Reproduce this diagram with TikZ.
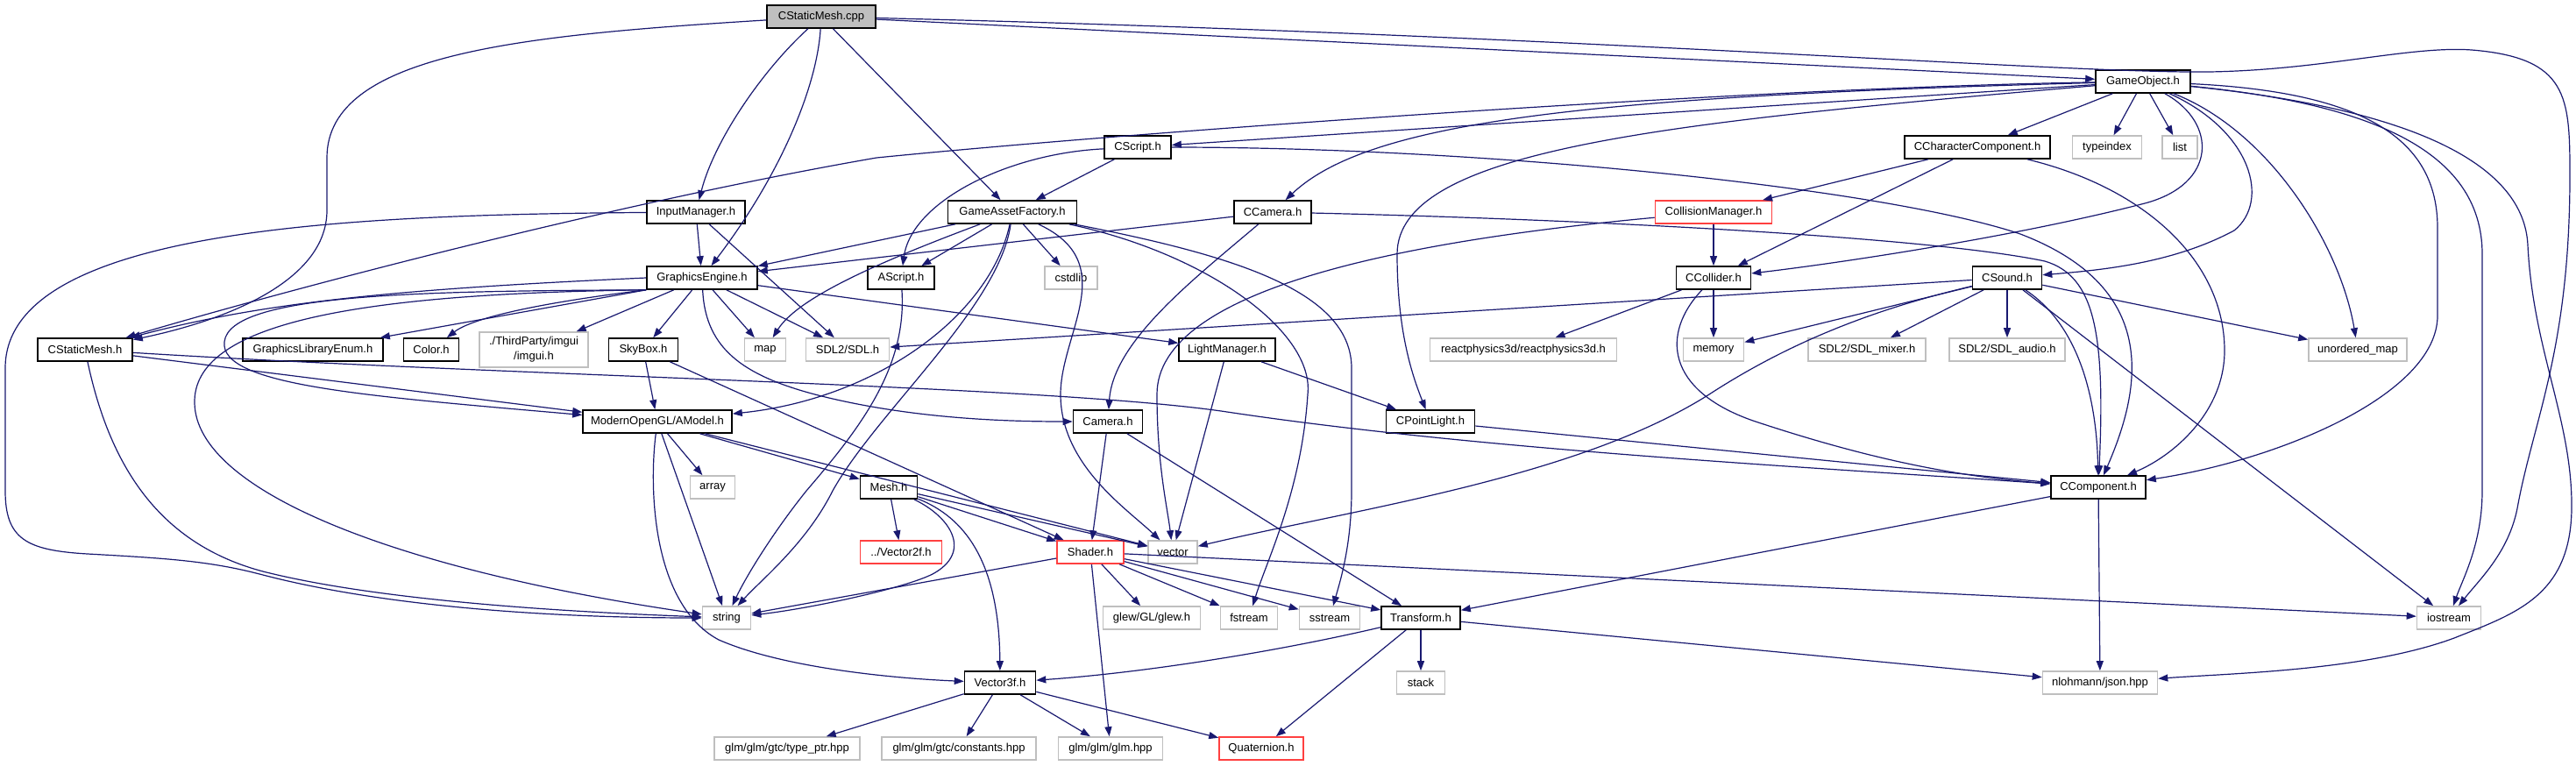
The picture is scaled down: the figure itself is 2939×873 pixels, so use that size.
\documentclass[tikz,border=0pt]{standalone}
\usepackage{fontspec}
\setmainfont{Liberation Sans}
\usetikzlibrary{arrows.meta}
\definecolor{edgecol}{HTML}{191970}
\definecolor{graybd}{HTML}{BFBFBF}
\definecolor{redbd}{HTML}{FF4040}
\definecolor{rootfill}{HTML}{BFBFBF}
\begin{document}
\begin{tikzpicture}[x=1pt,y=-1pt,
  basebox/.style={rectangle, line width=1.6pt, fill=white, minimum height=26pt, inner xsep=2pt, inner ysep=0pt, font=\fontsize{13}{15}\selectfont},
  nb/.style={basebox, draw=black, minimum width=#1},
  gb/.style={basebox, draw=graybd, minimum width=#1},
  rb/.style={basebox, draw=redbd, minimum width=#1},
  root/.style={basebox, draw=black, fill=rootfill, minimum width=#1},
  conn/.style={draw=edgecol, line width=1.2pt, -{Triangle[length=11pt,width=8pt]}}]
\useasboundingbox (0,0) rectangle (2939,873);
\fill[white] (0,0) rectangle (2939,873);

% nodes
\node[root=124pt] (cpp) at (937,19) {CStaticMesh.cpp};
\node[nb=108pt] (gobj) at (2445,93) {GameObject.h};
\node[nb=76pt] (cscript) at (1298,168) {CScript.h};
\node[nb=166pt] (cchar) at (2256,168) {CCharacterComponent.h};
\node[gb=79pt] (typeindex) at (2404,168) {typeindex};
\node[gb=40pt] (list) at (2487,168) {list};
\node[nb=112pt] (inputmgr) at (794,242) {InputManager.h};
\node[nb=147pt] (gaf) at (1155,242) {GameAssetFactory.h};
\node[nb=88pt] (ccamera) at (1452,242) {CCamera.h};
\node[rb=133pt] (collmgr) at (1955,242) {CollisionManager.h};
\node[nb=126pt] (gfx) at (801,317) {GraphicsEngine.h};
\node[nb=76pt] (ascript) at (1028,317) {AScript.h};
\node[gb=60pt] (cstdlib) at (1222,317) {cstdlib};
\node[nb=85pt] (ccollider) at (1955,317) {CCollider.h};
\node[nb=79pt] (csound) at (2290,317) {CSound.h};
\node[nb=108pt] (csmh) at (97,399) {CStaticMesh.h};
\node[nb=160pt] (gle) at (357,399) {GraphicsLibraryEnum.h};
\node[nb=63pt] (color) at (492,399) {Color.h};
\node[gb=124pt, minimum height=40pt, align=center, font=\fontsize{13}{17}\selectfont] (imgui) at (609,399) {./ThirdParty/imgui\\/imgui.h};
\node[nb=79pt] (skybox) at (734,399) {SkyBox.h};
\node[gb=47pt] (map) at (873,399) {map};
\node[gb=95pt] (sdl) at (967,399) {SDL2/SDL.h};
\node[nb=110pt] (lightmgr) at (1400,399) {LightManager.h};
\node[gb=213pt] (react) at (1738,399) {reactphysics3d/reactphysics3d.h};
\node[gb=69pt] (memory) at (1955,399) {memory};
\node[gb=134pt] (mixer) at (2130,399) {SDL2/SDL\_mixer.h};
\node[gb=132pt] (audio) at (2290,399) {SDL2/SDL\_audio.h};
\node[gb=112pt] (umap) at (2690,399) {unordered\_map};
\node[nb=170pt] (amodel) at (750,481) {ModernOpenGL/AModel.h};
\node[nb=79pt] (camera) at (1264,481) {Camera.h};
\node[nb=101pt] (cpointlight) at (1632,481) {CPointLight.h};
\node[nb=108pt] (ccomponent) at (2394,556) {CComponent.h};
\node[gb=51pt] (array) at (813,556) {array};
\node[nb=65pt] (mesh) at (1014,556) {Mesh.h};
\node[rb=93pt] (vector2f) at (1028,630) {../Vector2f.h};
\node[rb=76pt] (shader) at (1244,630) {Shader.h};
\node[gb=56pt] (vector) at (1338,630) {vector};
\node[gb=55pt] (string) at (829,705) {string};
\node[gb=111pt] (glew) at (1314,705) {glew/GL/glew.h};
\node[gb=65pt] (fstream) at (1425,705) {fstream};
\node[gb=69pt] (sstream) at (1517,705) {sstream};
\node[nb=90pt] (transform) at (1621,705) {Transform.h};
\node[gb=73pt] (iostream) at (2794,705) {iostream};
\node[nb=81pt] (vector3f) at (1141,779) {Vector3f.h};
\node[gb=55pt] (stack) at (1621,779) {stack};
\node[gb=131pt] (json) at (2396,779) {nlohmann/json.hpp};
\node[gb=166pt] (typeptr) at (898,854) {glm/glm/gtc/type\_ptr.hpp};
\node[gb=176pt] (constants) at (1094,854) {glm/glm/gtc/constants.hpp};
\node[gb=119pt] (glm) at (1267,854) {glm/glm/glm.hpp};
\node[rb=96pt] (quaternion) at (1439,854) {Quaternion.h};

% CStaticMesh.cpp
\draw[conn] (cpp) .. controls (600,40) and (373,60) .. (373,180) -- (373,240) .. controls (373,320) and (260,365) .. (csmh);
\draw[conn] (cpp) .. controls (870,80) and (815,160) .. (inputmgr);
\draw[conn] (cpp) .. controls (932,100) and (890,200) .. (gfx);
\draw[conn] (cpp) -- (gaf);
\draw[conn] (cpp) -- (gobj);
\draw[conn] (cpp) .. controls (1800,40) and (2350,84) .. (2520,82) .. controls (2650,80) and (2750,52) .. (2820,57) .. controls (2930,66) and (2932,110) .. (2932,200) .. controls (2932,400) and (2890,480) .. (2872,580) .. controls (2862,630) and (2830,660) .. (iostream);

% InputManager.h
\draw[conn] (inputmgr) -- (gfx);
\draw[conn] (inputmgr) -- (sdl);
\draw[conn] (inputmgr) .. controls (400,245) and (6,260) .. (6,420) -- (6,560) .. controls (6,615) and (30,628) .. (100,632) .. controls (190,637) and (240,640) .. (300,656) .. controls (450,695) and (650,705) .. (string);

% GameObject.h
\draw[conn] (gobj) -- (cscript);
\draw[conn] (gobj) -- (cchar);
\draw[conn] (gobj) -- (typeindex);
\draw[conn] (gobj) -- (list);
\draw[conn] (gobj) .. controls (1800,110) and (1560,140) .. (ccamera);
\draw[conn] (gobj) .. controls (2000,100) and (1300,150) .. (1000,180) .. controls (700,232) and (330,330) .. (csmh);
\draw[conn] (gobj) .. controls (2570,150) and (2590,230) .. (2549,263) .. controls (2480,300) and (2400,308) .. (csound);
\draw[conn] (gobj) .. controls (2530,140) and (2530,210) .. (2447,232) .. controls (2300,270) and (2100,300) .. (ccollider);
\draw[conn] (gobj) .. controls (1900,140) and (1594,170) .. (1594,290) .. controls (1594,380) and (1612,430) .. (cpointlight);
\draw[conn] (gobj) .. controls (2590,150) and (2670,280) .. (umap);
\draw[conn] (gobj) .. controls (2700,105) and (2781,160) .. (2781,260) -- (2781,360) .. controls (2781,450) and (2600,525) .. (ccomponent);
\draw[conn] (gobj) .. controls (2700,118) and (2832,170) .. (2832,290) -- (2832,560) .. controls (2832,620) and (2810,660) .. (iostream);
\draw[conn] (gobj) .. controls (2760,125) and (2880,190) .. (2884,280) .. controls (2890,400) and (2935,480) .. (2934,580) .. controls (2933,680) and (2870,700) .. (2800,728) .. controls (2700,765) and (2550,768) .. (json);

% CCharacterComponent.h
\draw[conn] (cchar) -- (collmgr);
\draw[conn] (cchar) -- (ccollider);
\draw[conn] (cchar) .. controls (2450,215) and (2538,300) .. (2538,400) .. controls (2538,470) and (2480,520) .. (ccomponent);

% CScript.h
\draw[conn] (cscript) -- (gaf);
\draw[conn] (cscript) .. controls (1150,175) and (1040,230) .. (ascript);
\draw[conn] (cscript) .. controls (1700,168) and (2150,215) .. (2305,267) .. controls (2470,330) and (2440,450) .. (ccomponent);

% GameAssetFactory.h
\draw[conn] (gaf) -- (gfx);
\draw[conn] (gaf) -- (ascript);
\draw[conn] (gaf) -- (cstdlib);
\draw[conn] (gaf) .. controls (1280,300) and (1210,380) .. (1210,450) .. controls (1210,530) and (1285,580) .. (vector);
\draw[conn] (gaf) .. controls (1400,290) and (1542,330) .. (1542,420) -- (1542,560) .. controls (1542,620) and (1530,660) .. (sstream);
\draw[conn] (gaf) .. controls (1380,290) and (1500,380) .. (1492,450) .. controls (1485,560) and (1445,640) .. (fstream);
\draw[conn] (gaf) .. controls (1140,350) and (1000,470) .. (950,560) .. controls (920,620) and (870,660) .. (string);
\draw[conn] (gaf) .. controls (1000,300) and (910,340) .. (map);
\draw[conn] (gaf) .. controls (1130,360) and (1000,455) .. (amodel);

% CCamera.h
\draw[conn] (ccamera) -- (gfx);
\draw[conn] (ccamera) .. controls (1360,320) and (1270,390) .. (camera);
\draw[conn] (ccamera) .. controls (1800,250) and (2200,270) .. (2333,298) .. controls (2390,315) and (2402,380) .. (ccomponent);

% CollisionManager.h
\draw[conn] (collmgr) -- (ccollider);
\draw[conn] (collmgr) .. controls (1600,275) and (1320,330) .. (1320,450) .. controls (1320,530) and (1332,580) .. (vector);

% GraphicsEngine.h
\draw[conn] (gfx.west) .. controls (450,330) and (300,345) .. (csmh);
\draw[conn] (gfx.south west) .. controls (480,332) and (262,335) .. (256,390) .. controls (250,440) and (420,452) .. (amodel);
\draw[conn] (gfx.south west) -- (gle);
\draw[conn] (gfx.south west) .. controls (620,345) and (540,362) .. (color);
\draw[conn] (gfx.south west) .. controls (400,335) and (220,370) .. (222,460) .. controls (224,560) and (450,650) .. (string);
\draw[conn] (gfx) -- (imgui);
\draw[conn] (gfx) -- (skybox);
\draw[conn] (gfx) -- (map);
\draw[conn] (gfx) -- (sdl);
\draw[conn] (gfx) -- (lightmgr);
\draw[conn] (gfx) .. controls (805,400) and (850,432) .. (950,455) .. controls (1050,478) and (1150,481) .. (camera);

% AScript.h
\draw[conn] (ascript) .. controls (1035,420) and (980,490) .. (920,560) .. controls (880,610) and (850,660) .. (string);

% CStaticMesh.h
\draw[conn] (csmh) -- (amodel);
\draw[conn] (csmh) .. controls (600,430) and (1200,440) .. (1400,470) .. controls (1700,515) and (2100,535) .. (ccomponent);
\draw[conn] (csmh) .. controls (125,530) and (180,620) .. (300,652) .. controls (450,690) and (700,700) .. (string);

% SkyBox.h, LightManager.h, CPointLight.h
\draw[conn] (skybox) -- (amodel);
\draw[conn] (skybox) -- (shader);
\draw[conn] (lightmgr) -- (cpointlight);
\draw[conn] (lightmgr) -- (vector);
\draw[conn] (cpointlight) -- (ccomponent);

% CCollider.h
\draw[conn] (ccollider) -- (react);
\draw[conn] (ccollider) -- (memory);
\draw[conn] (ccollider) .. controls (1895,380) and (1900,445) .. (2000,480) .. controls (2150,530) and (2250,545) .. (ccomponent);

% CSound.h
\draw[conn] (csound) -- (sdl);
\draw[conn] (csound) -- (memory);
\draw[conn] (csound) .. controls (2150,350) and (2050,385) .. (1950,450) .. controls (1800,545) and (1550,580) .. (vector);
\draw[conn] (csound) -- (mixer);
\draw[conn] (csound) -- (audio);
\draw[conn] (csound) .. controls (2370,370) and (2392,450) .. (ccomponent);
\draw[conn] (csound) -- (iostream);
\draw[conn] (csound) -- (umap);

% ModernOpenGL/AModel.h
\draw[conn] (amodel) -- (array);
\draw[conn] (amodel) -- (string);
\draw[conn] (amodel) -- (vector);
\draw[conn] (amodel) -- (mesh);
\draw[conn] (amodel) .. controls (740,560) and (745,690) .. (820,730) .. controls (900,765) and (1040,775) .. (vector3f);

% Mesh.h
\draw[conn] (mesh) -- (vector2f);
\draw[conn] (mesh) -- (shader);
\draw[conn] (mesh) -- (vector);
\draw[conn] (mesh) .. controls (1085,590) and (1110,630) .. (1064,655) .. controls (1030,672) and (920,695) .. (string);
\draw[conn] (mesh) .. controls (1100,590) and (1140,640) .. (vector3f);

% Shader.h
\draw[conn] (shader) -- (string);
\draw[conn] (shader) -- (glew);
\draw[conn] (shader) -- (fstream);
\draw[conn] (shader) -- (sstream);
\draw[conn] (shader) -- (transform);
\draw[conn] (shader) -- (iostream);
\draw[conn] (shader) -- (glm);

% Camera.h
\draw[conn] (camera) -- (shader);
\draw[conn] (camera) -- (transform);

% Transform.h
\draw[conn] (transform) .. controls (1450,745) and (1300,768) .. (vector3f);
\draw[conn] (transform) -- (stack);
\draw[conn] (transform) -- (quaternion);
\draw[conn] (transform) -- (json);

% Vector3f.h
\draw[conn] (vector3f) -- (typeptr);
\draw[conn] (vector3f) -- (constants);
\draw[conn] (vector3f) -- (glm);
\draw[conn] (vector3f) -- (quaternion);

% CComponent.h
\draw[conn] (ccomponent) -- (transform);
\draw[conn] (ccomponent) -- (json);
\end{tikzpicture}
\end{document}
